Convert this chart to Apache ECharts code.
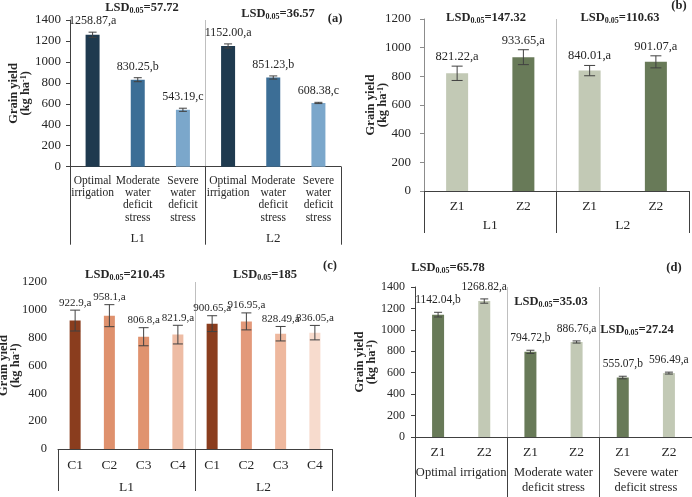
<!DOCTYPE html>
<html>
<head>
<meta charset="utf-8">
<script src="https://cdn.jsdelivr.net/npm/echarts@6/dist/echarts.min.js"></script>
<style>html,body{margin:0;padding:0;background:#fff}#c{width:692px;height:497px}</style>
</head>
<body>
<div id="c"></div>
<script>
// ---------- data ----------
const catsA = ['Optimal\nirrigation', 'Moderate\nwater\ndeficit\nstress', 'Severe\nwater\ndeficit\nstress',
               'Optimal\nirrigation', 'Moderate\nwater\ndeficit\nstress', 'Severe\nwater\ndeficit\nstress'];
const groupsA = ['L1', 'L2'];
const valsA = ['1258.87', '830.25', '543.19', '1152.00', '851.23', '608.38'];
const errA = [25, 19, 15, 20, 15, 6];
const letA = ['a', 'b', 'c', 'a', 'b', 'c'];
const lsdA = ['57.72', '36.57'];

const catsB = ['Z1', 'Z2', 'Z1', 'Z2'];
const groupsB = ['L1', 'L2'];
const valsB = ['821.22', '933.65', '840.01', '901.07'];
const errB = [50, 52, 36, 42];
const letB = ['a', 'a', 'a', 'a'];
const lsdB = ['147.32', '110.63'];

const catsC = ['C1', 'C2', 'C3', 'C4', 'C1', 'C2', 'C3', 'C4'];
const groupsC = ['L1', 'L2'];
const valsC = ['922.9', '958.1', '806.8', '821.9', '900.65', '916.95', '828.49', '836.05'];
const errC = [75, 79, 65, 67, 57, 61, 52, 52];
const letC = ['a', 'a', 'a', 'a', 'a', 'a', 'a', 'a'];
const lsdC = ['210.45', '185'];

const catsD = ['Z1', 'Z2', 'Z1', 'Z2', 'Z1', 'Z2'];
const groupsD = ['Optimal irrigation', 'Moderate water\ndeficit stress', 'Severe water\ndeficit stress'];
const valsD = ['1142.04', '1268.82', '794.72', '886.76', '555.07', '596.49'];
const errD = [22, 20, 15, 10, 12, 9];
const letD = ['b', 'a', 'b', 'a', 'b', 'a'];
const lsdD = ['65.78', '35.03', '27.24'];

const panelTags = ['(a)', '(b)', '(c)', '(d)'];

// ---------- styles ----------
const colA = ['#1f3a4f', '#3c6e96', '#7ba7cb', '#1f3a4f', '#3c6e96', '#7ba7cb'];
const colB = ['#c2c9b5', '#687a58', '#c2c9b5', '#687a58'];
const colC = ['#8a3d1e', '#df916d', '#e0936f', '#eebca4', '#8a3d1e', '#e3997a', '#eeb89e', '#f7dbcd'];
const colD = ['#687a58', '#c2c9b5', '#687a58', '#c2c9b5', '#687a58', '#c2c9b5'];

const FONT = 'Liberation Serif';
const TXT = '#262626';
const AX = '#404040';

const options = { animation: false, backgroundColor: '#fff', grid: [], xAxis: [], yAxis: [], series: [], graphic: [] };

function addPanel(g, c) {
  options.grid.push(Object.assign({ containLabel: false, outerBoundsMode: 'none' }, c.grid));
  options.xAxis.push({
    type: 'category', gridIndex: g, data: c.cats, position: 'bottom',
    axisLine: { show: true, lineStyle: { color: AX, width: 1 } },
    axisTick: { show: false },
    axisLabel: { interval: 0, margin: c.catMargin, color: TXT, fontFamily: FONT, fontSize: c.catFont, lineHeight: c.catLineH },
    splitLine: { show: false }
  });
  options.xAxis.push({
    type: 'category', gridIndex: g, data: c.groups, position: 'bottom',
    axisLine: { show: false },
    axisTick: { show: true, interval: 0, length: c.groupTickLen, lineStyle: { color: AX, width: 1 } },
    axisLabel: { interval: 0, margin: c.groupMargin, color: TXT, fontFamily: FONT, fontSize: c.groupFont, lineHeight: c.groupLineH || 15 },
    splitLine: { show: true, interval: 0, showMinLine: false, showMaxLine: false, lineStyle: { color: '#bfbfbf', width: 1 } }
  });
  options.yAxis.push({
    type: 'value', gridIndex: g, min: 0, max: c.max, interval: 200,
    axisLine: { show: c.yLine, lineStyle: { color: c.yLineColor || AX } },
    axisTick: { show: c.yLine, length: 4, lineStyle: { color: c.yLineColor || AX } },
    axisLabel: { margin: c.yMargin, color: TXT, fontFamily: FONT, fontSize: c.tickFont, formatter: v => String(v) },
    splitLine: { show: false },
    name: '{t|Grain yield}\n{t|(kg ha}{s|-1}{t|)}',
    nameLocation: 'middle', nameGap: c.nameGap, nameRotate: 90, nameMoveOverlap: false,
    nameTextStyle: {
      color: TXT, fontFamily: FONT, fontWeight: 'bold', fontSize: 12.5, lineHeight: 12,
      rich: {
        t: { fontFamily: FONT, fontWeight: 'bold', fontSize: 12.5, color: TXT, lineHeight: 12 },
        s: { fontFamily: FONT, fontWeight: 'bold', fontSize: 8, color: TXT, verticalAlign: 'top', lineHeight: 12 }
      }
    }
  });
  const xi = g * 2;
  options.series.push({
    type: 'bar', xAxisIndex: xi, yAxisIndex: g, barWidth: c.barWidth,
    data: c.vals.map((v, i) => ({ value: Number(v), itemStyle: { color: c.colors[i] } })),
    silent: true
  });
  options.series.push({
    type: 'custom', xAxisIndex: xi, yAxisIndex: g, silent: true, z: 5,
    data: c.vals.map((v, i) => [i, Number(v), c.errs[i]]),
    renderItem: function (params, api) {
      const i = params.dataIndex;
      const x = api.value(0), v = api.value(1), e = api.value(2);
      const top = api.coord([x, v + e]);
      const bot = api.coord([x, v - e]);
      const hw = c.capW / 2;
      const st = { stroke: AX, lineWidth: 1 };
      return {
        type: 'group', children: [
          { type: 'line', shape: { x1: top[0], y1: top[1], x2: bot[0], y2: bot[1] }, style: st },
          { type: 'line', shape: { x1: top[0] - hw, y1: top[1], x2: top[0] + hw, y2: top[1] }, style: st },
          { type: 'line', shape: { x1: bot[0] - hw, y1: bot[1], x2: bot[0] + hw, y2: bot[1] }, style: st },
          { type: 'text', style: {
              text: c.vals[i] + ',' + c.lets[i], x: top[0] + (c.labelDx || 0), y: top[1] - c.labelGap,
              align: 'center', verticalAlign: 'bottom',
              fill: TXT, font: c.labelFont + 'px "' + FONT + '"' } }
        ]
      };
    }
  });
}

addPanel(0, {
  grid: { left: 70, top: 20, right: 351, bottom: 330.3 },
  cats: catsA, groups: groupsA, vals: valsA, errs: errA, lets: letA, colors: colA,
  max: 1400, barWidth: 14, capW: 8,
  tickFont: 13, yMargin: 9, yLine: true,
  catFont: 11.5, catLineH: 12.3, catMargin: 8,
  groupFont: 13, groupMargin: 64, groupTickLen: 78,
  nameGap: 38, labelFont: 12, labelGap: 5
});
addPanel(1, {
  grid: { left: 424, top: 19, right: 3, bottom: 306 },
  cats: catsB, groups: groupsB, vals: valsB, errs: errB, lets: letB, colors: colB,
  max: 1200, barWidth: 22, capW: 11,
  tickFont: 13, yMargin: 13, yLine: true, yLineColor: '#8c8c8c',
  catFont: 13.5, catLineH: 14, catMargin: 8,
  groupFont: 13.5, groupMargin: 27, groupTickLen: 42,
  nameGap: 35, labelFont: 12.5, labelGap: 3
});
addPanel(2, {
  grid: { left: 58, top: 282, right: 360, bottom: 48 },
  cats: catsC, groups: groupsC, vals: valsC, errs: errC, lets: letC, colors: colC,
  max: 1200, barWidth: 11, capW: 10,
  tickFont: 12.5, yMargin: 11, yLine: false,
  catFont: 13.5, catLineH: 14, catMargin: 9,
  groupFont: 13.5, groupMargin: 31, groupTickLen: 42,
  nameGap: 36, labelFont: 11, labelGap: 2
});
addPanel(3, {
  grid: { left: 415, top: 287, right: 0, bottom: 60 },
  cats: catsD, groups: groupsD, vals: valsD, errs: errD, lets: letD, colors: colD,
  max: 1400, barWidth: 12, capW: 8,
  tickFont: 12, yMargin: 10, yLine: true,
  catFont: 13.5, catLineH: 14, catMargin: 8,
  groupFont: 12.5, groupLineH: 15, groupMargin: 28, groupTickLen: 62,
  nameGap: 37, labelFont: 11.5, labelGap: 6
});

// LSD annotations and panel tags
function lsd(val, x, y) {
  options.graphic.push({
    type: 'text', x: x, y: y, silent: true,
    style: {
      text: '{b|LSD}{s|0.05}{b|=' + val + '}',
      align: 'center', verticalAlign: 'middle',
      rich: {
        b: { fontFamily: FONT, fontWeight: 'bold', fontSize: 12.5, fill: TXT, lineHeight: 14 },
        s: { fontFamily: FONT, fontWeight: 'bold', fontSize: 8, fill: TXT, lineHeight: 14, verticalAlign: 'bottom', padding: [5, 0, 0, 0] }
      }
    }
  });
}
function tag(t, x, y) {
  options.graphic.push({
    type: 'text', x: x, y: y, silent: true,
    style: { text: t, align: 'center', verticalAlign: 'middle', fill: TXT, font: 'bold 12.5px "' + FONT + '"' }
  });
}
lsd(lsdA[0], 142, 8); lsd(lsdA[1], 278, 14); tag(panelTags[0], 335, 19);
lsd(lsdB[0], 486, 18); lsd(lsdB[1], 620, 18); tag(panelTags[1], 679, 6);
lsd(lsdC[0], 125, 275); lsd(lsdC[1], 265, 275); tag(panelTags[2], 330, 266);
lsd(lsdD[0], 448, 268); lsd(lsdD[1], 551, 302); lsd(lsdD[2], 637, 330); tag(panelTags[3], 674, 268);

const chart = echarts.init(document.getElementById('c'), null, { renderer: 'canvas' });
chart.setOption(options);
</script>
</body>
</html>
